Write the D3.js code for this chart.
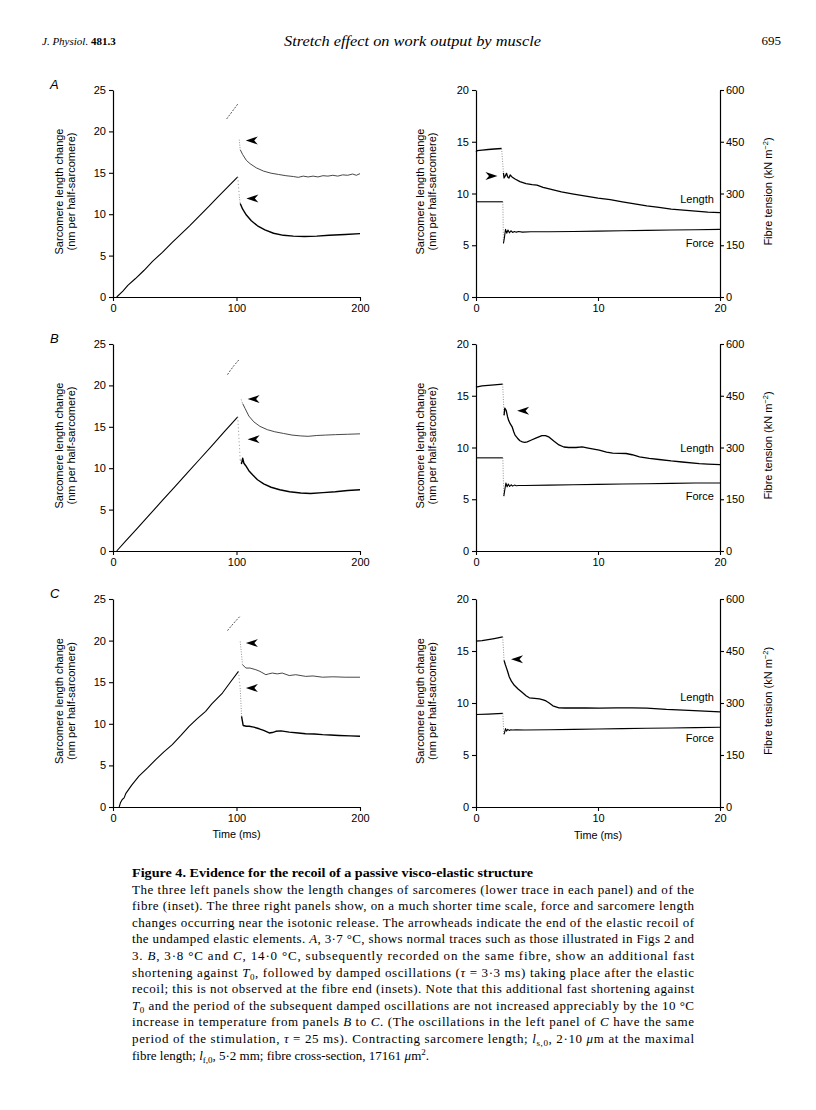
<!DOCTYPE html>
<html>
<head>
<meta charset="utf-8">
<script src="https://cdn.jsdelivr.net/npm/d3@7"></script>
<style>
  body { margin: 0; background: #fff; }
  svg { display: block; }
</style>
</head>
<body>
<script>
// ticks
const leftYTicks = [0, 5, 10, 15, 20, 25];
const leftXTicks = [0, 100, 200];
const rightYTicks = [0, 5, 10, 15, 20];
const rightXTicks = [0, 10, 20];
const forceTicks = [0, 150, 300, 450, 600];

// ---- A (3.7 C) ----  left: [time ms, nm per half-sarcomere]
const aRamp = [[3,0],[8,0.7],[12,1.4],[18,2.2],[25,3.2],[32,4.3],[40,5.4],[48,6.6],[55,7.6],[62,8.6],[70,9.8],[78,11.0],[85,12.1],[93,13.3],[101,14.5]];
const aLower = [[102.3,12.1],[103,11.3],[105,10.6],[108,9.9],[112,9.2],[117,8.6],[123,8.1],[130,7.7],[138,7.45],[146,7.35],[155,7.3],[165,7.35],[175,7.45],[188,7.55],[200,7.65]];
const aInsetPre = [[92,21.5],[95,22.1],[98,22.7],[101.5,23.4]];
const aInset = [[102.2,19.0],[103,17.8],[105,17.2],[108,16.5],[111,16.1],[116,15.6],[122,15.2],[128,14.95],[134,14.8],[140,14.65],[146,14.55],[150,14.45],[154,14.6],[158,14.5],[162,14.6],[166,14.5],[170,14.65],[174,14.6],[178,14.7],[182,14.6],[186,14.75],[190,14.7],[194,14.85],[197,14.7],[200,14.9]];
const aLeftArrows = [[107.5,18.9],[108,11.9]];
// right: length [ms, nm], force [ms, kN m-2]
const aLenPre = [[0,14.0],[0.1,14.15],[0.5,14.2],[1,14.25],[1.5,14.3],[2.1,14.35]];
const aLen = [[2.25,12.0],[2.3,11.5],[2.4,11.7],[2.5,11.95],[2.6,11.6],[2.7,11.5],[2.8,11.8],[2.95,11.6],[3.2,11.4],[3.6,11.15],[4.1,10.95],[4.6,10.85],[5.0,10.8],[5.5,10.6],[6.0,10.45],[6.5,10.3],[7,10.15],[8,9.95],[9,9.75],[10,9.55],[11,9.4],[12,9.2],[13,9.0],[14,8.8],[15,8.65],[16,8.5],[17,8.4],[18,8.3],[19,8.2],[20,8.15]];
const aForcePre = [[0,276],[2.2,276]];
const aForce = [[2.25,155],[2.32,170],[2.42,196],[2.52,185],[2.62,194],[2.74,186],[2.86,192],[3.0,187],[3.15,190],[3.3,188],[3.5,190],[3.8,188],[4.5,189],[6,189],[8,190],[10,191],[12,192],[14,193],[16,194],[18,195],[20,196]];
const aRightArrow = [1.76, 11.7];

// ---- B (3.8 C) ----
const bRamp = [[3,0],[10,1.15],[20,2.8],[30,4.45],[40,6.1],[50,7.75],[60,9.4],[70,11.05],[80,12.7],[90,14.4],[101,16.2]];
const bLower = [[103,11.0],[104,10.5],[105,11.2],[106,10.6],[107.5,10.3],[110,9.7],[113,9.2],[117,8.6],[122,8.1],[128,7.7],[135,7.4],[143,7.15],[152,7.0],[160,6.95],[170,7.05],[180,7.15],[190,7.3],[200,7.4]];
const bInsetPre = [[92.7,21.3],[95,21.8],[98,22.4],[102,23.1]];
const bInset = [[103.8,18.3],[105,17.8],[107,17.2],[110,16.3],[114,15.6],[119,15.05],[125,14.65],[131,14.4],[138,14.2],[145,14.0],[152,13.9],[158,13.85],[165,13.95],[172,14.0],[180,14.05],[190,14.1],[200,14.15]];
const bLeftArrows = [[109,18.35],[109,13.5]];
const bLenPre = [[0,15.9],[0.1,15.85],[0.5,15.95],[1,16.0],[1.5,16.05],[2.19,16.13]];
const bLen = [[2.3,13.1],[2.36,13.8],[2.47,13.6],[2.58,13.0],[2.68,12.6],[2.8,12.3],[2.96,12.0],[3.1,11.5],[3.2,11.2],[3.4,10.9],[3.6,10.65],[3.8,10.55],[4.0,10.5],[4.2,10.55],[4.5,10.7],[4.9,10.9],[5.4,11.15],[5.7,11.15],[6.0,11.0],[6.4,10.6],[6.8,10.25],[7.2,10.05],[7.6,10.0],[8.2,10.0],[8.7,10.06],[9.2,9.95],[10.1,9.74],[10.7,9.55],[11.2,9.45],[12.3,9.42],[12.8,9.3],[13.4,9.1],[14.2,8.95],[15,8.84],[16,8.7],[16.9,8.6],[18.3,8.45],[19,8.4],[20,8.35]];
const bForcePre = [[0,270],[2.2,270]];
const bForce = [[2.28,159],[2.35,175],[2.45,197],[2.55,186],[2.65,194],[2.76,187],[2.88,192],[3.0,188],[3.15,191],[3.3,189],[3.5,190],[4,190],[6,191],[8,192],[10,193],[12,194],[14,195],[16,196],[18,197],[20,197]];
const bRightArrow = [3.37, 13.55];

// ---- C (14.0 C) ----
const cRamp = [[5,0],[6,0.5],[7.5,0.9],[9,1.1],[10.3,1.6],[15,2.6],[21,3.7],[28,4.7],[34.6,5.7],[41,6.6],[48,7.5],[55,8.6],[61.6,9.7],[68,10.6],[75,11.5],[80,12.4],[88.6,13.7],[95,15.0],[101.6,16.3]];
const cLower = [[103,14.3],[104.1,10.9],[105.4,9.8],[108,9.7],[110.3,9.7],[114,9.6],[118.4,9.4],[122,9.2],[126.5,8.9],[129,8.95],[131.9,9.1],[136,9.15],[142.7,9.0],[150,8.9],[156,8.8],[163,8.78],[169.7,8.7],[176,8.65],[183,8.6],[192,8.55],[200,8.5]];
const cInsetPre = [[92.7,21.2],[96,21.8],[99,22.3],[102.7,22.9]];
const cInset = [[103,19.9],[104.9,17.1],[107.6,16.7],[111,16.7],[115.7,16.5],[119,16.3],[123.8,15.9],[126,16.0],[129,16.1],[133,16.0],[137,16.1],[142.7,15.8],[148,15.9],[156,15.7],[162,15.75],[169.7,15.6],[178,15.65],[188,15.6],[200,15.6]];
const cLeftArrows = [[107.6,19.7],[107.6,14.3]];
const cLenPre = [[0,15.94],[0.5,16.0],[1,16.1],[1.5,16.2],[2.19,16.35]];
const cLen = [[2.3,14.1],[2.4,13.7],[2.46,13.5],[2.6,13.0],[2.73,12.5],[2.9,12.1],[3.14,11.7],[3.45,11.35],[3.8,11.0],[4.1,10.7],[4.37,10.5],[4.8,10.45],[5.2,10.4],[5.5,10.3],[5.74,10.2],[6.0,10.0],[6.3,9.73],[6.8,9.54],[7.3,9.52],[7.9,9.54],[9,9.52],[10.1,9.5],[11.5,9.53],[12.8,9.54],[14,9.5],[15.6,9.38],[17,9.32],[18.3,9.25],[20,9.15]];
const cForcePre = [[0,267],[1,268],[2.2,270]];
const cForce = [[2.28,210],[2.33,213],[2.42,226],[2.5,219],[2.6,224],[2.72,221],[2.85,223],[3.0,222],[3.3,223],[4,222],[6,223],[8,224],[10,225],[12,226],[14,227],[16,228],[18,229],[20,230]];
const cRightArrow = [2.87, 14.2];

const sans = "'Liberation Sans', Arial, sans-serif";
const serif = "'Liberation Serif', 'Times New Roman', serif";

const svg = d3.select("body").append("svg")
  .attr("width", 816).attr("height", 1110);
svg.append("rect").attr("width", 816).attr("height", 1110).attr("fill", "#fff");

// page header
const hdr = svg.append("text").attr("x", 42).attr("y", 45)
  .attr("font-family", serif).attr("font-size", 11);
hdr.append("tspan").attr("font-style", "italic").text("J. Physiol. ");
hdr.append("tspan").attr("font-weight", "bold").text("481.3");
svg.append("text").attr("x", 284).attr("y", 46)
  .attr("font-family", serif).attr("font-style", "italic").attr("font-size", 15.5)
  .attr("textLength", 257).attr("lengthAdjust", "spacingAndGlyphs")
  .text("Stretch effect on work output by muscle");
svg.append("text").attr("x", 781).attr("y", 45).attr("text-anchor", "end")
  .attr("font-family", serif).attr("font-size", 13).text("695");

const rows = [
  { top: 90, bottom: 297, letter: "A" },
  { top: 344, bottom: 551, letter: "B" },
  { top: 599, bottom: 807, letter: "C" }
];
const xL = d3.scaleLinear().domain([0, 200]).range([113, 360]);
const xR = d3.scaleLinear().domain([0, 20]).range([476, 720]);

function styleAxis(g) {
  g.selectAll("path.domain").attr("stroke", "#000").attr("stroke-width", 1.2);
  g.selectAll(".tick line").attr("stroke", "#000").attr("stroke-width", 1.1);
  g.selectAll(".tick text").attr("font-family", sans).attr("font-size", 11).attr("fill", "#000");
}

function path(g, data, x, y, stroke, width, dash) {
  g.append("path").datum(data)
    .attr("fill", "none").attr("stroke", stroke).attr("stroke-width", width)
    .attr("stroke-linejoin", "round")
    .attr("stroke-dasharray", dash || null)
    .attr("d", d3.line().x(d => x(d[0])).y(d => y(d[1])));
}

function arrowHead(g, x, y, pt, dir) {
  const px = x(pt[0]), py = y(pt[1]);
  const s = dir === "left" ? 1 : -1;
  g.append("path")
    .attr("d", `M${px},${py}L${px + s * 12},${py - 4}L${px + s * 8.5},${py}L${px + s * 12},${py + 4}Z`)
    .attr("fill", "#000");
}

function yTitle(g, x, cy, lines) {
  lines.forEach((t, i) => {
    g.append("text")
      .attr("transform", `translate(${x + i * 11.5},${cy}) rotate(-90)`)
      .attr("text-anchor", "middle")
      .attr("font-family", sans).attr("font-size", 11)
      .text(t);
  });
}

function leftPanel(row, d, showTime) {
  const g = svg.append("g");
  const y = d3.scaleLinear().domain([0, 25]).range([row.bottom, row.top]);
  g.append("g").attr("transform", `translate(0,${row.bottom})`)
    .call(d3.axisBottom(xL).tickValues(leftXTicks).tickSize(4).tickSizeOuter(0).tickPadding(3))
    .call(styleAxis);
  g.append("g").attr("transform", `translate(${xL(0)},0)`)
    .call(d3.axisLeft(y).tickValues(leftYTicks).tickSize(4).tickSizeOuter(0).tickPadding(3))
    .call(styleAxis);

  path(g, d.ramp, xL, y, "#000", 1.1);
  path(g, [d.ramp[d.ramp.length - 1], d.lower[0]], xL, y, "#777", 0.8, "1,2.5");
  path(g, d.lower.slice(0, 2), xL, y, "#777", 0.8, "1,1.5");
  path(g, d.lower.slice(1), xL, y, "#000", 1.4);
  path(g, d.insetPre, xL, y, "#444", 0.9, "2,1.3");
  path(g, d.inset.slice(0, 2), xL, y, "#777", 0.8, "1,1.5");
  path(g, d.inset.slice(1), xL, y, "#333", 0.9);
  d.arrows.forEach(a => arrowHead(g, xL, y, a, "left"));

  g.append("text").attr("x", 50).attr("y", row.top - 1)
    .attr("font-family", sans).attr("font-style", "italic").attr("font-size", 13)
    .text(row.letter);
  yTitle(g, 63, (row.top + row.bottom) / 2 - 2, ["Sarcomere length change", "(nm per half-sarcomere)"]);
  if (showTime) {
    g.append("text").attr("x", xL(100)).attr("y", row.bottom + 31)
      .attr("text-anchor", "middle").attr("font-family", sans).attr("font-size", 10.8)
      .text("Time (ms)");
  }
}

function rightPanel(row, d, showTime) {
  const g = svg.append("g");
  const y = d3.scaleLinear().domain([0, 20]).range([row.bottom, row.top]);
  const yF = d3.scaleLinear().domain([0, 600]).range([row.bottom, row.top]);
  g.append("g").attr("transform", `translate(0,${row.bottom})`)
    .call(d3.axisBottom(xR).tickValues(rightXTicks).tickSize(4).tickSizeOuter(0).tickPadding(3))
    .call(styleAxis);
  g.append("g").attr("transform", `translate(${xR(0)},0)`)
    .call(d3.axisLeft(y).tickValues(rightYTicks).tickSize(4).tickSizeOuter(0).tickPadding(3))
    .call(styleAxis);
  g.append("g").attr("transform", `translate(${xR(20)},0)`)
    .call(d3.axisRight(yF).tickValues(forceTicks).tickSize(4).tickSizeOuter(0).tickPadding(2))
    .call(styleAxis);

  path(g, d.lenPre, xR, y, "#000", 1.3);
  path(g, [d.lenPre[d.lenPre.length - 1], d.len[0]], xR, y, "#777", 0.8, "1,1.5");
  path(g, d.len, xR, y, "#000", 1.3);
  path(g, d.forcePre, xR, yF, "#000", 1.1);
  path(g, [d.forcePre[d.forcePre.length - 1], d.force[0]], xR, yF, "#777", 0.8, "1,1.5");
  path(g, d.force, xR, yF, "#000", 1.1);
  arrowHead(g, xR, y, d.arrow, d.arrowDir);

  g.append("text").attr("x", xR(19.5)).attr("y", y(d.lenLabel) + 4)
    .attr("text-anchor", "end").attr("font-family", sans).attr("font-size", 11).text("Length");
  g.append("text").attr("x", xR(19.5)).attr("y", y(d.forceLabel) + 4)
    .attr("text-anchor", "end").attr("font-family", sans).attr("font-size", 11).text("Force");

  const cy = (row.top + row.bottom) / 2 - 2;
  yTitle(g, 424, cy, ["Sarcomere length change", "(nm per half-sarcomere)"]);
  const rt = g.append("text")
    .attr("transform", `translate(772,${cy}) rotate(-90)`)
    .attr("text-anchor", "middle").attr("font-family", sans).attr("font-size", 11);
  rt.append("tspan").text("Fibre tension (kN m");
  rt.append("tspan").attr("dy", -4).attr("font-size", 7.5).text("\u22122");
  rt.append("tspan").attr("dy", 4).text(")");
  if (showTime) {
    g.append("text").attr("x", xR(10)).attr("y", row.bottom + 32)
      .attr("text-anchor", "middle").attr("font-family", sans).attr("font-size", 10.8)
      .text("Time (ms)");
  }
}

leftPanel(rows[0], { ramp: aRamp, lower: aLower, insetPre: aInsetPre, inset: aInset, arrows: aLeftArrows });
leftPanel(rows[1], { ramp: bRamp, lower: bLower, insetPre: bInsetPre, inset: bInset, arrows: bLeftArrows });
leftPanel(rows[2], { ramp: cRamp, lower: cLower, insetPre: cInsetPre, inset: cInset, arrows: cLeftArrows }, true);
rightPanel(rows[0], { lenPre: aLenPre, len: aLen, forcePre: aForcePre, force: aForce, arrow: aRightArrow, arrowDir: "right", lenLabel: 9.5, forceLabel: 5.2 });
rightPanel(rows[1], { lenPre: bLenPre, len: bLen, forcePre: bForcePre, force: bForce, arrow: bRightArrow, arrowDir: "left", lenLabel: 9.95, forceLabel: 5.3 });
rightPanel(rows[2], { lenPre: cLenPre, len: cLen, forcePre: cForcePre, force: cForce, arrow: cRightArrow, arrowDir: "left", lenLabel: 10.6, forceLabel: 6.6 }, true);

// caption: each line is a list of [text, style]
const captionLines = [
  [["The three left panels show the length changes of sarcomeres (lower trace in each panel) and of the"]],
  [["fibre (inset). The three right panels show, on a much shorter time scale, force and sarcomere length"]],
  [["changes occurring near the isotonic release. The arrowheads indicate the end of the elastic recoil of"]],
  [["the undamped elastic elements. "], ["A", "i"], [", 3\u00b77 \u00b0C, shows normal traces such as those illustrated in Figs 2 and"]],
  [["3. "], ["B", "i"], [", 3\u00b78 \u00b0C and "], ["C", "i"], [", 14\u00b70 \u00b0C, subsequently recorded on the same fibre, show an additional fast"]],
  [["shortening against "], ["T", "i"], ["0", "sub"], [", followed by damped oscillations ("], ["\u03c4", "i"], [" = 3\u00b73 ms) taking place after the elastic"]],
  [["recoil; this is not observed at the fibre end (insets). Note that this additional fast shortening against"]],
  [["T", "i"], ["0", "sub"], [" and the period of the subsequent damped oscillations are not increased appreciably by the 10 \u00b0C"]],
  [["increase in temperature from panels "], ["B", "i"], [" to "], ["C", "i"], [". (The oscillations in the left panel of "], ["C", "i"], [" have the same"]],
  [["period of the stimulation, "], ["\u03c4", "i"], [" = 25 ms). Contracting sarcomere length; "], ["l", "i"], ["s,0", "sub"], [", 2\u00b710 "], ["\u03bc", "i"], ["m at the maximal"]],
  [["fibre length; "], ["l", "i"], ["f,0", "sub"], [", 5\u00b72 mm; fibre cross-section, 17161 "], ["\u03bc", "i"], ["m"], ["2", "sup"], ["."]]
];

svg.append("text").attr("x", 132).attr("y", 877)
  .attr("font-family", serif).attr("font-weight", "bold").attr("font-size", 13)
  .attr("textLength", 401).attr("lengthAdjust", "spacingAndGlyphs")
  .text("Figure 4. Evidence for the recoil of a passive visco-elastic structure");

captionLines.forEach((segs, i) => {
  const t = svg.append("text").attr("x", 132).attr("y", 893.6 + i * 16.6)
    .attr("font-family", serif).attr("font-size", 13);
  if (i < captionLines.length - 1) t.attr("textLength", 562).attr("lengthAdjust", "spacing");
  let off = 0;
  segs.forEach(([s, st]) => {
    const sp = t.append("tspan").text(s);
    let target = 0;
    if (st === "i") sp.attr("font-style", "italic");
    if (st === "sub") { target = 3; sp.attr("font-size", 9); }
    if (st === "sup") { target = -5; sp.attr("font-size", 9); }
    if (target !== off) { sp.attr("dy", target - off); off = target; }
  });
});
</script>
</body>
</html>
